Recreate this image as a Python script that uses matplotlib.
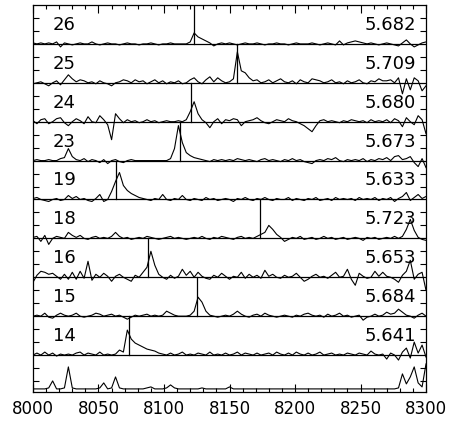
import matplotlib
matplotlib.use("Agg")
import matplotlib.pyplot as plt
import numpy as np

# wavelength grid (Angstrom), one point every 3 A
wave = np.arange(8000, 8301, 3)

# object ids and redshifts, top to bottom
ids = ["26", "25", "24", "23", "19", "18", "16", "15", "14"]
redshifts = [5.682, 5.709, 5.680, 5.673, 5.633, 5.723, 5.653, 5.684, 5.641]

# fluxes (pixels above each zero line)
f26 = [1, 0, 1, 0, 1, 0, 2, -3, 1, 0,
       -1, 0, 1, 0, 0, 2, 0, -1, 0, 1,
       0, 0, -1, 0, 1, 0, 0, -1, 0, 0,
       1, 0, -1, 0, 0, 1, 0, 0, 0, 0,
       2, 11, 7, 5, 3, 1, -2, 0, 1, 0,
       1, 0, -1, 0, 1, 0, 0, 1, 0, -1,
       0, 0, 1, 0, 0, -1, 0, 1, 0, 0,
       0, 1, 0, -1, 0, 1, 0, -1, 3, -1,
       1, 2, 3, 2, 1, 0, 1, 0, -1, 0,
       1, 0, -1, -2, 1, 4, 0, -3, -1, 1, 2]
f25 = [-1, 0, 1, -1, -3, 0, 2, -2, 3, 8,
       4, 1, 3, 2, 0, 1, -1, 2, 0, -1,
       -3, 0, 1, 3, 2, 0, 3, 1, 2, -1,
       1, 3, 0, 2, -1, 1, 0, 2, -1, 0,
       3, 5, 1, -1, 3, 6, 1, 5, 2, 0,
       1, 4, 31, 12, 10, 5, 2, 3, 0, 1,
       3, 0, 2, 4, 1, 0, 2, -1, 3, 1,
       0, 4, 3, 2, 0, 1, 3, 0, 1, -1,
       2, 0, 1, 3, 0, -1, 2, 1, 4, 2,
       2, 3, 0, 5, -11, 4, -7, 5, 2, -8, -3]
f24 = [1, -2, 2, 3, -2, 0, 3, 4, -1, -4,
       0, 3, 1, -2, 5, 0, -1, 6, 2, -3,
       -18, 8, 3, -1, 2, 0, 1, -1, 0, 2,
       0, 1, -1, 0, 1, 0, 0, 1, 0, 2,
       10, 20, 8, 2, -1, -6, 0, 3, -2, 2,
       1, 3, 2, -4, 0, 1, 2, 4, 1, -1,
       -2, 0, 2, 1, 0, 3, 1, 0, -2, -4,
       -7, -10, -4, 1, 2, 0, 1, 0, -1, 1,
       0, 2, 1, 0, 1, -1, 2, 0, 1, 0,
       2, -1, 3, 1, -5, 4, 0, -3, 6, 2, -12]
f23 = [0, 1, 0, 0, 1, 0, 0, 2, 3, 12,
       4, 1, 0, 2, -1, 1, 0, -2, 1, -3,
       0, 1, -1, -2, 0, 1, 0, 0, 0, 0,
       0, 0, 0, 0, 0, 2, 12, 35, 18, 8,
       5, 3, 2, 1, 0, -1, 1, 0, 1, 0,
       1, 0, 2, 1, 0, 1, 0, -1, 1, 2,
       0, 1, 0, -1, 1, 0, 2, 0, 1, -1,
       -2, -3, 0, 1, 0, 2, 1, 3, 0, -1,
       1, 0, 1, 0, 2, -1, 1, 0, 2, 1,
       3, 0, 4, 5, 1, 2, 4, -2, -6, 2, -7]
f19 = [1, 2, 0, -1, -2, 0, 1, -1, 0, 4,
       1, 3, 0, 1, -1, -2, 1, 5, -2, 0,
       8, 18, 27, 14, 9, 6, 4, 2, 1, 0,
       -1, 1, 0, 5, 0, -1, 1, 0, 4, 0,
       -1, 1, 0, -1, 2, 0, 1, -1, 0, 1,
       0, -2, 1, 0, 2, 0, -1, 1, 0, 2,
       0, -1, 1, 0, 0, 2, -1, 1, 0, -1,
       1, 0, 2, -1, 0, 1, -1, 2, 0, 1,
       0, 1, -1, 2, 0, 1, 0, 2, -1, 1,
       0, 2, -2, 1, 3, 7, -1, 2, 5, 1, 3]
f18 = [1, 2, -3, 3, -6, 0, 2, 1, 0, 6,
       3, 1, 3, 0, -1, 1, 2, 0, 1, 0,
       2, 6, 2, 0, 1, -1, 0, 1, 0, 2,
       1, 0, -1, 0, 1, 2, 0, 1, 0, -1,
       0, 1, 0, 2, 0, -1, 1, 0, 2, 1,
       0, -1, 1, 2, 0, 1, 0, 2, 4, 6,
       13, 9, 4, 1, -3, -1, 1, 0, 2, -1,
       0, 1, -1, 0, 2, 0, 1, -1, 0, 1,
       -1, 0, 1, 0, -2, 1, 0, 1, -1, 0,
       1, 0, 2, 0, 2, 9, 19, 8, 1, -1, -2]
f16 = [-5, 2, 6, 5, 3, 4, 1, -2, 3, -2,
       5, -2, 6, -1, 16, -3, 3, 0, 4, 1,
       -4, 1, 3, 0, -2, -4, 2, 0, 5, 10,
       26, 12, 3, 0, -2, 2, -1, 1, 8, 2,
       6, 0, 5, 1, -1, -2, 2, 0, 4, 1,
       -2, 1, 0, 5, -1, 3, 0, 2, -1, 7,
       1, 3, 0, -1, 2, 0, 1, 4, 0, -4,
       -2, 1, 3, 0, 1, -1, 2, 5, 0, 1,
       8, -2, -8, 4, 1, -1, 0, 6, 1, 5,
       1, 0, -2, -5, 2, 6, 17, -2, 3, 5, -13]
f15 = [0, 1, 0, 3, -1, -2, 1, 3, 1, 0,
       1, 3, 0, -1, 0, 1, 3, 2, 0, 1,
       2, 0, 1, -1, -3, -1, 1, 0, 1, 2,
       0, 1, 0, 1, 5, 3, 1, 0, 0, 0,
       1, 5, 19, 14, 5, 1, 0, -1, 0, 1,
       0, 2, 5, 2, 0, -1, 1, 2, 0, 3,
       1, 0, -1, 0, 1, 0, -1, 1, 0, 2,
       3, 1, 0, 1, -1, 2, 0, 1, 3, 0,
       1, -1, 0, 1, -4, -1, 0, 2, 0, 1,
       4, 2, 3, 7, 4, 1, 0, -2, 1, 3, 0]
f14 = [0, 2, 0, 3, 0, 2, -1, 1, 0, 1,
       0, 2, 3, 0, 2, 1, 0, 3, 0, 1,
       0, 1, 5, 3, 25, 16, 12, 10, 8, 6,
       5, 4, 2, 1, 0, 2, 0, 1, 3, 0,
       1, 0, 2, 1, 0, 3, 0, 1, 0, 2,
       0, 1, 3, 0, 2, 1, 0, 2, 0, 1,
       2, 0, 3, 1, 0, 2, 0, 3, 1, 0,
       2, 0, 1, 3, 0, 1, 2, 0, 1, 0,
       2, 1, 0, 2, 1, 0, 4, 1, 0, 1,
       -4, 2, 0, -5, 3, 7, -3, 13, 2, 10, -2]
# sky spectrum in the bottom panel
sky = [0, 0, 0, 0, 1, 8, 0, 0, 1, 22,
       1, 0, 0, 0, 0, 0, 0, 1, 6, 0,
       1, 12, 1, 0, 0, 0, 0, 0, 0, 1,
       2, 0, 0, 0, 1, 4, 1, 0, 0, 0,
       0, 0, 0, 1, 0, 0, 0, 0, 0, 0,
       2, 0, 0, 0, 0, 0, 0, 0, 0, 0,
       0, 0, 0, 0, 0, 0, 0, 0, 0, 0,
       0, 0, 0, 0, 0, 0, 0, 0, 0, 0,
       0, 0, 0, 0, 0, 0, 0, 0, 0, 0,
       0, 0, 0, 1, 15, 5, 12, 22, 6, 2, 25]

spectra = [f26, f25, f24, f23, f19, f18, f16, f15, f14]

lya = 1215.67
px = 38.9  # pixels per panel

fig = plt.figure(figsize=(4.52, 4.29), dpi=100)
ax = fig.add_axes([0.073, 0.0862, 0.8695, 0.9021])

npan = len(spectra)
for k in range(npan):
    base = npan - k
    ax.plot(wave, base + np.array(spectra[k]) / px, color="black", lw=0.8)
    ax.axhline(base, color="black", lw=0.9)
    # Lya position for the redshift
    lam = lya * (1 + redshifts[k])
    ax.plot([lam, lam], [base, base + 1], color="black", lw=0.9)
    ax.text(8024, base + 0.49, ids[k], ha="center", va="center", fontsize=13)
    ax.text(8292.5, base + 0.49, "%.3f" % redshifts[k], ha="right", va="center", fontsize=13)

ax.plot(wave, 0.13 + np.array(sky) / px, color="black", lw=0.8)

ax.set_xlim(8000, 8300)
ax.set_ylim(0.05, 10)

ax.set_xticks(np.arange(8000, 8301, 50))
ax.set_xticks(np.arange(8000, 8301, 10), minor=True)
yt = [k / 3 for k in range(1, 30) if k % 3 != 0]
ax.set_yticks(yt)
ax.set_yticklabels([])
ax.tick_params(axis="x", which="major", direction="in", top=True, length=6, width=0.8,
               labelsize=12, pad=6)
ax.tick_params(axis="x", which="minor", direction="in", top=True, length=3, width=0.8)
ax.tick_params(axis="y", direction="in", right=True, length=4, width=0.8)
for s in ax.spines.values():
    s.set_linewidth(0.9)

fig.savefig("out.png", dpi=100)
